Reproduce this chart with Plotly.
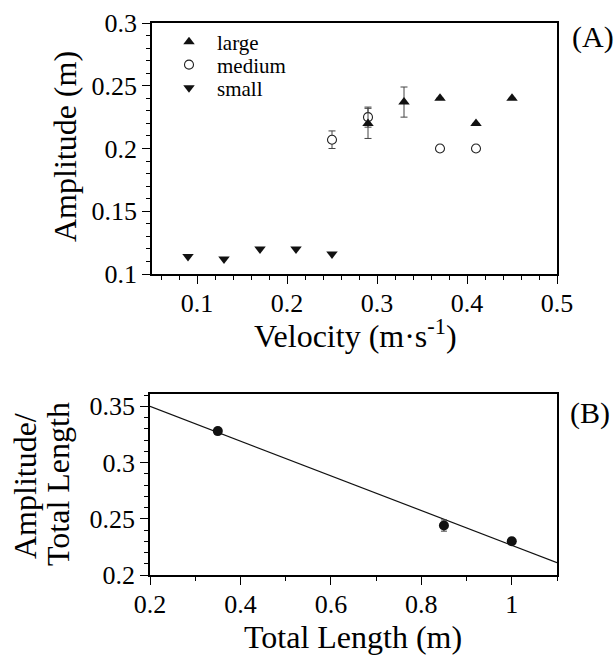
import plotly.graph_objects as go

# ---- Panel A data ----
velocity_large = [0.29, 0.33, 0.37, 0.41, 0.45]
amp_large = [0.22, 0.237, 0.24, 0.22, 0.24]
err_large = [0.012, 0.012, 0, 0, 0]

velocity_medium = [0.25, 0.29, 0.37, 0.41]
amp_medium = [0.207, 0.225, 0.2, 0.2]
err_medium = [0.007, 0.008, 0, 0]

velocity_small = [0.09, 0.13, 0.17, 0.21, 0.25]
amp_small = [0.114, 0.112, 0.12, 0.12, 0.116]

# ---- Panel B data ----
total_length = [0.35, 0.85, 1.0]
amp_ratio = [0.328, 0.244, 0.23]
err_ratio = [0.003, 0.005, 0.003]
fit_x = [0.2, 1.1]
fit_y = [0.35, 0.211]

FONT = "Liberation Serif"
W, H = 615, 655

fig = go.Figure()

fig.add_trace(go.Scatter(
    x=velocity_medium, y=amp_medium, mode="markers", name="medium", legend="legend2",
    marker=dict(symbol="circle", size=9, color="white", line=dict(width=1.1, color="#222")),
    error_y=dict(type="data", array=err_medium, color="#444", thickness=1, width=3.5),
    xaxis="x", yaxis="y"))
fig.add_trace(go.Scatter(
    x=velocity_large, y=amp_large, mode="markers", name="large", legend="legend",
    marker=dict(symbol="triangle-up", size=10, color="#111"),
    error_y=dict(type="data", array=err_large, color="#444", thickness=1, width=3.5),
    xaxis="x", yaxis="y"))
fig.add_trace(go.Scatter(
    x=velocity_small, y=amp_small, mode="markers", name="small", legend="legend3",
    marker=dict(symbol="triangle-down", size=10, color="#111"),
    xaxis="x", yaxis="y"))

fig.add_trace(go.Scatter(
    x=fit_x, y=fit_y, mode="lines", showlegend=False,
    line=dict(color="#111", width=1.2), xaxis="x2", yaxis="y2"))
fig.add_trace(go.Scatter(
    x=total_length, y=amp_ratio, mode="markers", showlegend=False,
    marker=dict(symbol="circle", size=10, color="#111"),
    error_y=dict(type="data", array=err_ratio, color="#444", thickness=1, width=3),
    xaxis="x2", yaxis="y2"))

leg_common = dict(xanchor="left", yanchor="middle", bgcolor="rgba(0,0,0,0)",
                  font=dict(family=FONT, size=21, color="black"),
                  itemwidth=46, borderwidth=0)

fig.update_layout(
    template="none",
    width=W, height=H,
    margin=dict(l=0, r=0, t=0, b=0),
    paper_bgcolor="white", plot_bgcolor="white",
    font=dict(family=FONT, size=26, color="black"),
    xaxis=dict(domain=[152 / W, 557 / W], range=[0.05, 0.5], anchor="y",
               tickmode="linear", tick0=0.1, dtick=0.1,
               minor=dict(dtick=0.02, tick0=0, ticklen=4, ticks="outside",
                          tickcolor="black", showgrid=False)),
    yaxis=dict(domain=[1 - 274 / H, 1 - 23 / H], range=[0.1, 0.3], anchor="x",
               tickmode="linear", tick0=0.1, dtick=0.05,
               minor=dict(dtick=0.01, tick0=0, ticklen=4, ticks="outside",
                          tickcolor="black", showgrid=False)),
    xaxis2=dict(domain=[150 / W, 557 / W], range=[0.2, 1.1], anchor="y2",
                tickmode="linear", tick0=0.2, dtick=0.2,
                minor=dict(dtick=0.1, tick0=0, ticklen=4, ticks="outside",
                           tickcolor="black", showgrid=False)),
    yaxis2=dict(domain=[1 - 575 / H, 1 - 394 / H], range=[0.2, 0.361], anchor="x2",
                tickmode="linear", tick0=0.2, dtick=0.05,
                minor=dict(dtick=0.01, tick0=0, ticklen=4, ticks="outside",
                           tickcolor="black", showgrid=False)),
    legend=dict(x=161 / W, y=1 - 42 / H, **leg_common),
    legend2=dict(x=161 / W, y=1 - 65 / H, **leg_common),
    legend3=dict(x=161 / W, y=1 - 88 / H, **leg_common),
    showlegend=True,
)
fig.update_xaxes(showline=True, linecolor="black", linewidth=1.6, mirror=True,
                 ticks="outside", ticklen=8, tickwidth=1.3, tickcolor="black",
                 showgrid=False, zeroline=False, ticklabelstandoff=-3,
                 tickfont=dict(family=FONT, size=26, color="black"))
fig.update_yaxes(showline=True, linecolor="black", linewidth=1.6, mirror=True,
                 ticks="outside", ticklen=8, tickwidth=1.3, tickcolor="black",
                 showgrid=False, zeroline=False,
                 tickfont=dict(family=FONT, size=26, color="black"))

ann = [
    dict(text="Amplitude (m)", x=65 / W, y=1 - 147 / H, textangle=-90, size=32),
    dict(text="Velocity (m·s<sup>-1</sup>)", x=355 / W, y=1 - 334 / H, textangle=0, size=32),
    dict(text="Amplitude/", x=25 / W, y=1 - 486 / H, textangle=-90, size=32),
    dict(text="Total Length", x=58 / W, y=1 - 484 / H, textangle=-90, size=32),
    dict(text="Total Length (m)", x=353 / W, y=1 - 637 / H, textangle=0, size=32),
    dict(text="(A)", x=593 / W, y=1 - 37 / H, textangle=0, size=30),
    dict(text="(B)", x=590 / W, y=1 - 413 / H, textangle=0, size=30),
]
for a in ann:
    fig.add_annotation(text=a["text"], x=a["x"], y=a["y"], xref="paper", yref="paper",
                       xanchor="center", yanchor="middle", textangle=a["textangle"],
                       showarrow=False, font=dict(family=FONT, size=a["size"], color="black"))

fig.write_html(
    "out.html",
    config={"displayModeBar": False},
    post_script="document.body.style.margin='0';document.body.style.overflow='hidden';",
)
